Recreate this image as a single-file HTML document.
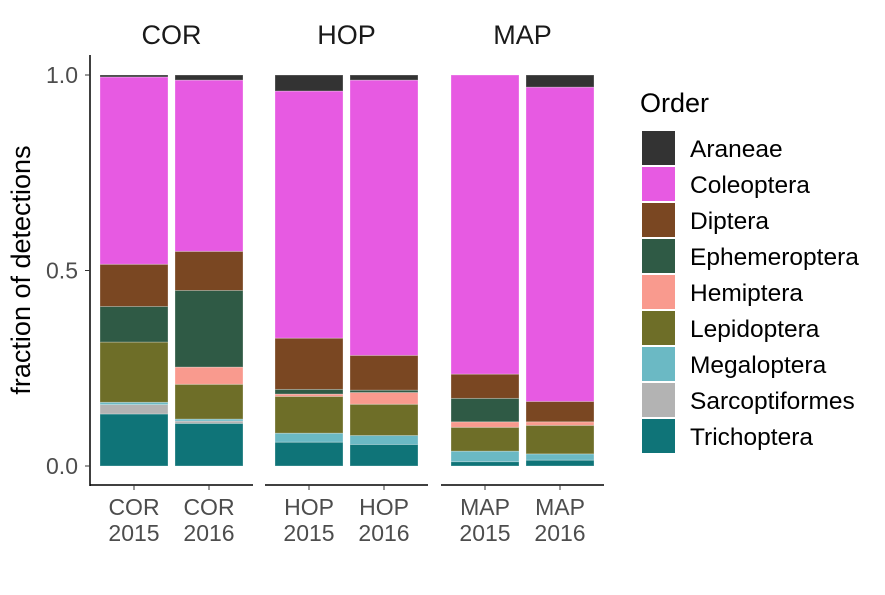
<!DOCTYPE html>
<html><head><meta charset="utf-8"><style>
body{margin:0;background:#fff;font-family:"Liberation Sans",sans-serif}
svg text{font-family:"Liberation Sans",sans-serif}
</style></head><body>
<svg id="c" width="885" height="590"></svg>
<script>
const orders=["Trichoptera","Sarcoptiformes","Megaloptera","Lepidoptera","Hemiptera","Ephemeroptera","Diptera","Coleoptera","Araneae"];
const colors=["#0f7478","#b3b3b3","#6bb9c4","#6e6e28","#f99a8e","#2f5a45","#7a4722","#e75ae2","#333333"];
const sites=["COR","HOP","MAP"];
const years=["2015","2016"];
const cor2015=[0.133,0.024,0.006,0.154,0,0.091,0.108,0.479,0.005];
const cor2016=[0.109,0.006,0.005,0.089,0.044,0.196,0.100,0.438,0.013];
const hop2015=[0.061,0,0.023,0.094,0.006,0.012,0.131,0.632,0.041];
const hop2016=[0.055,0,0.023,0.080,0.030,0.006,0.089,0.704,0.013];
const map2015=[0.011,0,0.027,0.061,0.014,0.060,0.062,0.765,0];
const map2016=[0.015,0,0.016,0.073,0.009,0,0.052,0.804,0.031];
const series=[[cor2015,cor2016],[hop2015,hop2016],[map2015,map2016]];
const yTicks=[0,0.5,1];
const yTickLabels=["0.0","0.5","1.0"];

const NS="http://www.w3.org/2000/svg";
const svg=document.getElementById('c');
function el(t,a,p){const e=document.createElementNS(NS,t);for(const k in a)e.setAttribute(k,a[k]);(p||svg).appendChild(e);return e;}
const y=v=>466-v*391;
const panelX=[90,265,441], panelW=163;
const barX=(p,i)=>panelX[p]+10+i*75;

const ya=el('line',{x1:90,x2:90,y1:55,y2:486,stroke:'#000','stroke-width':1.5});


yTicks.forEach((t,i)=>{
  const tk=el('line',{x1:85,x2:90,y1:y(t),y2:y(t),stroke:'#333'});
  
  
  const tl=el('text',{x:78,y:y(t)+8,'text-anchor':'end','font-size':23,fill:'#4d4d4d'});
  tl.textContent=yTickLabels[i];
  
  
});
const yt=el('text',{transform:'translate(30,270) rotate(-90)','text-anchor':'middle','font-size':27,fill:'#000'});
yt.textContent='fraction of detections';



sites.forEach((s,p)=>{
  const st=el('text',{x:panelX[p]+panelW/2,y:44,'text-anchor':'middle','font-size':27,fill:'#1a1a1a'});
  st.textContent=s;
  
  
  const xa=el('line',{x1:panelX[p],x2:panelX[p]+panelW,y1:485,y2:485,stroke:'#000','stroke-width':1.5});
  
  
  years.forEach((yr,i)=>{
    const vals=series[p][i];
    let cum=0;
    vals.forEach((v,k)=>{
      if(v>0){
        const r=el('rect',{x:barX(p,i),y:y(cum+v),width:68,height:v*391,fill:colors[k],stroke:'rgba(255,255,255,0.35)','stroke-width':0.8});
        
        
      }
      cum+=v;
    });
    const cx=barX(p,i)+34;
    const tk=el('line',{x1:cx,x2:cx,y1:485,y2:490,stroke:'#333'});
    
    
    const t1=el('text',{x:cx,y:515,'text-anchor':'middle','font-size':23,fill:'#4d4d4d'});
    t1.textContent=s;
    
    
    const t2=el('text',{x:cx,y:541,'text-anchor':'middle','font-size':23,fill:'#4d4d4d'});
    t2.textContent=yr;
    
    
  });
});

const lt=el('text',{x:640,y:112,'font-size':27,fill:'#000'});
lt.textContent='Order';


const legendOrder=[8,7,6,5,4,3,2,1,0];
legendOrder.forEach((k,i)=>{
  const yy=131+i*36;
  const r=el('rect',{x:642,y:yy,width:33,height:34,fill:colors[k]});
  
  
  const t=el('text',{x:690,y:yy+26,'font-size':24.5,fill:'#000'});
  t.textContent=orders[k];
  
  
});
</script>
</body></html>
